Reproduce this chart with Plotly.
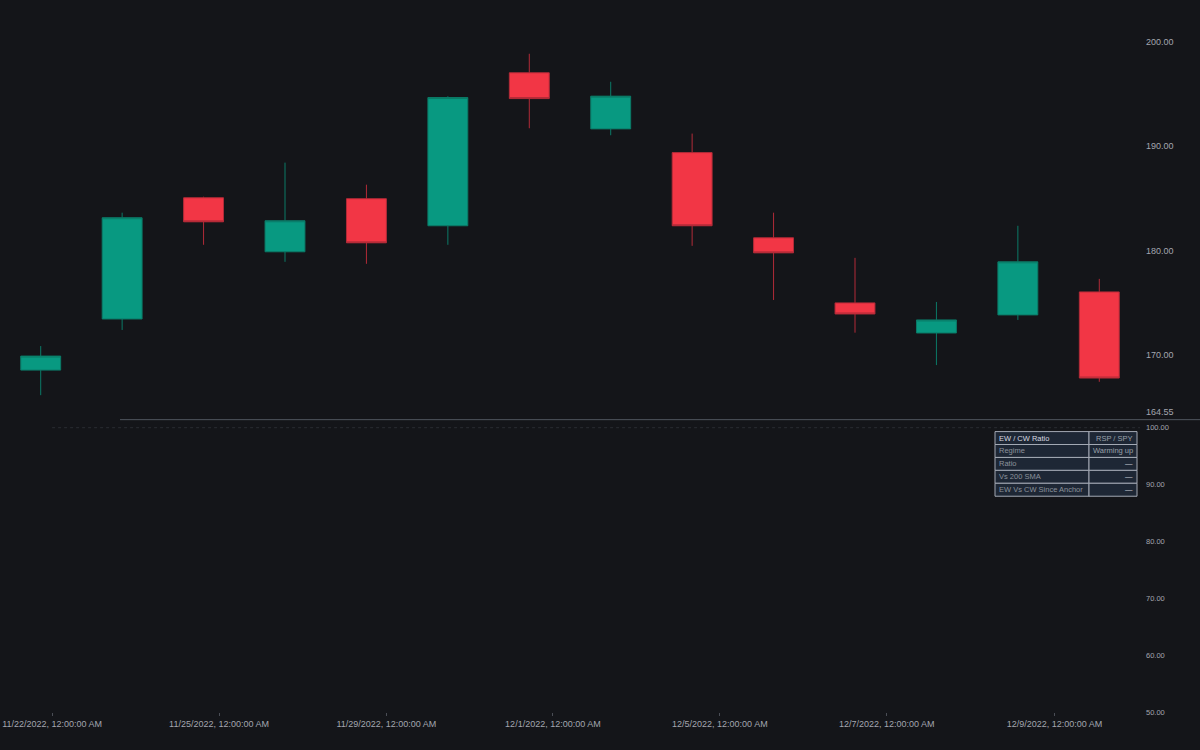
import plotly.graph_objects as go

# ---- data ----
candle_idx = list(range(14))
opens  = [168.55, 173.44, 185.04, 179.87, 184.95, 182.36, 197.00, 191.63, 189.36, 181.21, 174.98, 172.10, 173.83, 176.03]
highs  = [170.85, 183.61, 185.14, 188.40, 186.29, 194.75, 198.82, 196.14, 191.18, 183.61, 179.29, 175.07, 182.36, 177.28]
lows   = [166.15, 172.39, 180.54, 178.91, 178.72, 180.54, 191.69, 191.02, 180.44, 175.26, 172.13, 169.03, 173.35, 167.43]
closes = [169.89, 183.13, 182.74, 182.84, 180.73, 194.63, 194.53, 194.76, 182.36, 179.77, 173.92, 173.35, 178.91, 167.79]

x_tick_labels = ["11/22/2022, 12:00:00 AM", "11/25/2022, 12:00:00 AM", "11/29/2022, 12:00:00 AM",
                 "12/1/2022, 12:00:00 AM", "12/5/2022, 12:00:00 AM", "12/7/2022, 12:00:00 AM",
                 "12/9/2022, 12:00:00 AM"]
x_tick_pos = [0.14, 2.19, 4.245, 6.29, 8.34, 10.39, 12.45]

price_ticks = [164.55, 170, 180, 190, 200]
price_range = [164.36, 203.58]
lower_ticks = [50, 60, 70, 80, 90, 100]
lower_range = [50, 100]

table_header = ["EW / CW Ratio", "RSP / SPY"]
table_col1 = ["Regime", "Ratio", "Vs 200 SMA", "EW Vs CW Since Anchor"]
table_col2 = ["Warming up", "—", "—", "—"]

BG = "#141519"
TXT = "#a3a6af"
FONT = "Liberation Sans, Arial, sans-serif"

# plot-area size in pixels (for placing the table box)
PW, PH = 1140, 712
def px(x):
    return x / PW
def py(y):
    return 1 - y / PH

fig = go.Figure()

fig.add_trace(go.Candlestick(
    x=candle_idx, open=opens, high=highs, low=lows, close=closes,
    xaxis="x", yaxis="y",
    increasing=dict(fillcolor="#089981", line=dict(color="#0b7a67", width=1)),
    decreasing=dict(fillcolor="#f23645", line=dict(color="#b22b38", width=1)),
    whiskerwidth=0, showlegend=False, hoverinfo="skip",
))

# ---- table drawn with shapes + annotations ----
col_edges = [995, 1089, 1137]
row_top, row_h = 430, 13
rows = [table_header] + [[a, b] for a, b in zip(table_col1, table_col2)]
shapes = []
annotations = []
for r, (left_txt, right_txt) in enumerate(rows):
    y0 = row_top + r * row_h
    y1 = y0 + row_h
    for c in range(2):
        shapes.append(dict(type="rect", xref="paper", yref="paper",
                           x0=px(col_edges[c]), x1=px(col_edges[c + 1]),
                           y0=py(y1), y1=py(y0),
                           fillcolor="#1e2735", line=dict(color="#a3a9b4", width=1), layer="above"))
    is_head = r == 0
    annotations.append(dict(xref="paper", yref="paper", x=px(col_edges[0] + 2), y=py(y0 + row_h / 2),
                            xanchor="left", yanchor="middle", showarrow=False, text=left_txt,
                            font=dict(family=FONT, size=7.5, color="#d6d9e0" if is_head else "#8c929c")))
    annotations.append(dict(xref="paper", yref="paper", x=px(col_edges[2] - 2), y=py(y0 + row_h / 2),
                            xanchor="right", yanchor="middle", showarrow=False, text=right_txt,
                            font=dict(family=FONT, size=7.5,
                                      color="#9aa0aa" if (is_head or right_txt != "—") else "#c8ccd4")))

shapes += [
    dict(type="line", xref="paper", yref="paper",
         x0=px(120), x1=px(1200), y0=py(418), y1=py(418),
         line=dict(color="#50545e", width=1)),
    dict(type="line", xref="x", yref="y2",
         x0=x_tick_pos[0], x1=13.5, y0=lower_range[1], y1=lower_range[1],
         line=dict(color="#3c3f47", width=1, dash="dot")),
]

fig.update_layout(
    width=1200, height=750,
    paper_bgcolor=BG, plot_bgcolor=BG,
    margin=dict(l=0, r=60, t=0, b=38),
    font=dict(family=FONT, color=TXT),
    showlegend=False,
    xaxis=dict(domain=[0, 1], anchor="y2", range=[-0.5, 13.5],
               tickvals=x_tick_pos, ticktext=x_tick_labels,
               showgrid=False, zeroline=False, showline=False,
               ticks="outside", ticklen=3, tickcolor="#4a4d55",
               ticklabeloverflow="allow",
               tickfont=dict(size=9, color=TXT),
               rangeslider=dict(visible=False)),
    yaxis=dict(domain=[py(412.2), 1], anchor="x", side="right", range=price_range,
               tickvals=price_ticks, tickformat=".2f",
               showgrid=False, zeroline=False, showline=False,
               ticklabelstandoff=5,
               tickfont=dict(size=9, color=TXT)),
    yaxis2=dict(domain=[0, py(426)], anchor="x", side="right", range=lower_range,
                tickvals=lower_ticks, tickformat=".2f",
                showgrid=False, zeroline=False, showline=False,
                ticklabelstandoff=5,
                tickfont=dict(size=7.5, color=TXT)),
    shapes=shapes,
    annotations=annotations,
)

fig.write_html("out.html", config={"displayModeBar": False},
               post_script="document.body.style.margin='0';document.body.style.overflow='hidden';")
